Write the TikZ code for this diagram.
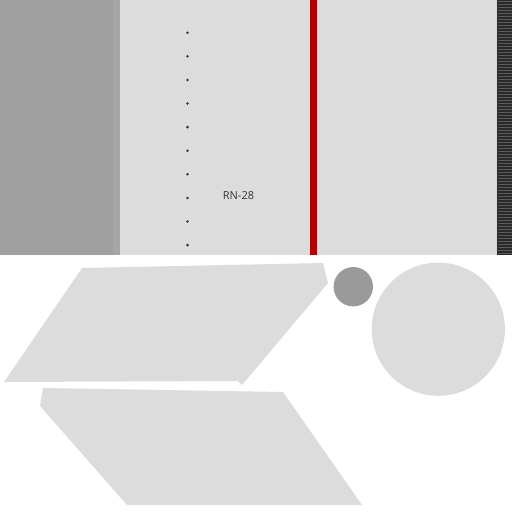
\documentclass[tikz,border=0pt]{standalone}
\usepackage{fontspec}
\setmainfont{Open Sans}
\definecolor{panelgray}{HTML}{A0A0A0}
\definecolor{edgegray}{HTML}{A6A6A6}
\definecolor{light}{HTML}{DCDCDC}
\definecolor{redstripe}{HTML}{B00000}
\definecolor{darkstripe}{HTML}{2A2A2A}
\definecolor{midstripe}{HTML}{5A5A5A}
\definecolor{dotcol}{HTML}{333333}
\begin{document}
\begin{tikzpicture}[x=1pt,y=-1pt,
  lightfill/.style={fill=light,draw=none},
  dotstyle/.style={circle,fill=dotcol,inner sep=0pt,minimum size=2.8pt},
  label/.style={font=\fontsize{11}{13}\selectfont,text=dotcol}]
\useasboundingbox (0,0) rectangle (512,512);
\fill[white] (0,0) rectangle (512,512);
% top band
\fill[panelgray] (0,0) rectangle (113,255);
\fill[edgegray] (113,0) rectangle (120,255);
\fill[light] (120,0) rectangle (497,255);
\fill[redstripe] (310,0) rectangle (317,255);
\fill[darkstripe] (497,0) rectangle (512,255);
\foreach \i in {0,...,84} {
  \fill[midstripe] (498,{\i*3+1}) rectangle (512,{\i*3+2});
}
% dots
\foreach \k in {0,...,9} {
  \node[dotstyle] (d\k) at (187.5,{32.7+\k*23.6}) {};
}
\node[label] (rn) at (238.5,196) {RN-28};
% lower shapes
\fill[light] (82,268) -- (323,263) -- (328,283) -- (242,385) -- (238,381) -- (4,382) -- cycle;
\fill[light] (43,388) -- (283,392) -- (362,505) -- (127,505) -- (40,406) -- cycle;
\fill[panelgray!96!black] (353.3,286.7) circle (19.7);
\fill[light] (438.3,329.2) circle (66.6);
\end{tikzpicture}
\end{document}
